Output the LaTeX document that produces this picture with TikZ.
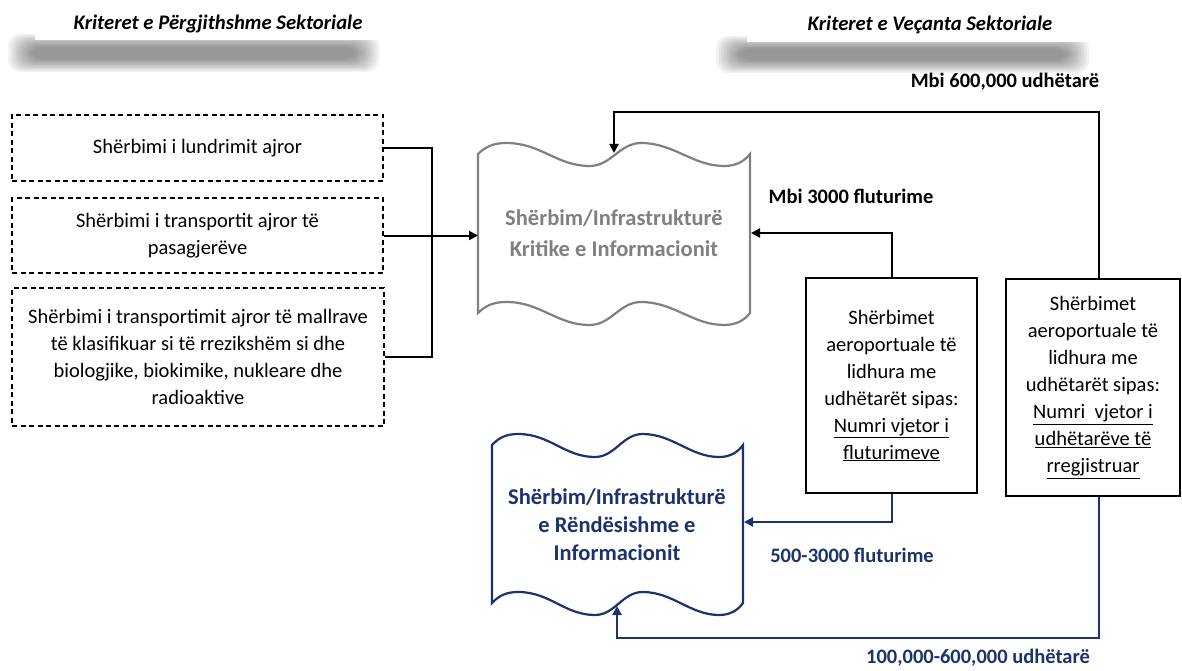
\documentclass[tikz,border=0pt]{standalone}
\usepackage{fontspec}
\setmainfont{Carlito}
\usetikzlibrary{arrows.meta}
\definecolor{navy}{RGB}{28,50,110}
\definecolor{docgray}{RGB}{128,128,128}
\newcommand\tapeoutline[5]{% style, left, top, width, bottom
  \draw[#1] (#2,#3)
   .. controls (#2+0.03*#4,#3-8) and (#2+0.06*#4,#3-11) .. (#2+0.105*#4,#3-11)
   .. controls (#2+0.23*#4,#3-11) and (#2+0.29*#4,#3+12) .. (#2+0.41*#4,#3+12)
   .. controls (#2+0.49*#4,#3+12) and (#2+0.52*#4,#3-11) .. (#2+0.6*#4,#3-11)
   .. controls (#2+0.72*#4,#3-11) and (#2+0.79*#4,#3+12) .. (#2+0.905*#4,#3+12)
   .. controls (#2+0.95*#4,#3+12) and (#2+0.98*#4,#3+7) .. (#2+#4,#3)
   -- (#2+#4,#5)
   .. controls (#2+0.98*#4,#5+7) and (#2+0.95*#4,#5+12) .. (#2+0.905*#4,#5+12)
   .. controls (#2+0.79*#4,#5+12) and (#2+0.72*#4,#5-11) .. (#2+0.6*#4,#5-11)
   .. controls (#2+0.52*#4,#5-11) and (#2+0.49*#4,#5+12) .. (#2+0.41*#4,#5+12)
   .. controls (#2+0.29*#4,#5+12) and (#2+0.23*#4,#5-11) .. (#2+0.105*#4,#5-11)
   .. controls (#2+0.06*#4,#5-11) and (#2+0.03*#4,#5-8) .. (#2,#5) -- cycle;}
\begin{document}
\begin{tikzpicture}[x=1pt,y=-1pt,
  boxtext/.style={align=center, inner sep=0pt, font=\fontsize{20.5}{27}\selectfont},
  dashbox/.style={boxtext, draw, dash pattern=on 5pt off 3.5pt, line width=1.5pt},
  solidbox/.style={boxtext, draw, line width=1.7pt},
  conn/.style={line width=2pt},
  arr/.style={conn, -{Triangle[length=9pt,width=9pt]}},
  navyarr/.style={arr, draw=navy, color=navy},
  lbl/.style={font=\bfseries\fontsize{20.5}{24}\selectfont, inner sep=0pt},
  hdr/.style={font=\bfseries\itshape\fontsize{20.7}{24}\selectfont, inner sep=0pt},
  doctext/.style={align=center, font=\bfseries\fontsize{22.5}{31}\selectfont, inner sep=0pt}
]
\useasboundingbox (0,0) rectangle (1182,671);
% header shadows
\foreach \i in {0,...,9}{
  \fill[black, opacity=0.05, rounded corners=12pt] (8+\i*2.5,34+\i*1.4) rectangle (379-\i*2.5,72-\i*1.4);
  \fill[black, opacity=0.05, rounded corners=12pt] (716+\i*2.5,36+\i*1.4) rectangle (1089-\i*2.5,73-\i*1.4);
}
\fill[white] (35,4) rectangle (393,40);
\fill[white] (747,4) rectangle (1093,42);
\node[hdr] (h1) at (218,24) {Kriteret e Përgjithshme Sektoriale};
\node[hdr] (h2) at (930,25) {Kriteret e Veçanta Sektoriale};

% left dashed boxes
\node[dashbox, minimum width=371pt, minimum height=66pt] (b1) at (197.5,148) {Shërbimi i lundrimit ajror};
\node[dashbox, minimum width=371pt, minimum height=75pt] (b2) at (197.5,235.5) {Shërbimi i transportit ajror të\\pasagjerëve};
\node[dashbox, minimum width=372pt, minimum height=138pt] (b3) at (198,357) {Shërbimi i transportimit ajror të mallrave\\të klasifikuar si të rrezikshëm si dhe\\biologjike, biokimike, nukleare dhe\\radioaktive};

% document shapes
\tapeoutline{draw=docgray, line width=2.2pt}{478}{154}{272}{313}
\node[doctext, text=docgray] (crit) at (614,233.5) {Shërbim/Infrastrukturë\\Kritike e Informacionit};
\tapeoutline{draw=navy, line width=2.2pt}{492}{445}{251}{603}
\node[doctext, text=navy, font=\bfseries\fontsize{22.5}{28}\selectfont] (imp) at (617,525) {Shërbim/Infrastrukturë\\e Rëndësishme e\\Informacionit};
\coordinate (critW) at (478,235.5);
\coordinate (critE) at (751,233);
\coordinate (critN) at (614,153);
\coordinate (impE) at (744,522);
\coordinate (impS) at (617,606);

% right boxes
\node[solidbox, minimum width=171pt, minimum height=215pt] (fl) at (891.5,385.5) {Shërbimet\\aeroportuale të\\lidhura me\\udhëtarët sipas:\\\underline{Numri vjetor i}\\\underline{fluturimeve}};
\node[solidbox, minimum width=174pt, minimum height=217pt] (ps) at (1093,387.5) {Shërbimet\\aeroportuale të\\lidhura me\\udhëtarët sipas:\\\underline{Numri\ \ vjetor i}\\\underline{udhëtarëve të}\\\underline{rregjistruar}};

% connectors left
\coordinate (junc) at (432,235.5);
\draw[conn] (b1.east) -| (junc);
\draw[conn] (b3.east) -| (junc);
\draw[arr] (b2.east) -- (critW);

% connectors right
\draw[arr] (fl.north) |- (critE);
\draw[arr] ([xshift=6pt]ps.north) -- ++(0,-166) -| (critN);
\draw[navyarr] (fl.south) |- (impE);
\draw[navyarr] ([xshift=6pt]ps.south) -- ++(0,141) -| (impS);

% labels
\node[lbl] (l1) at (1005,82) {Mbi 600,000 udhëtarë};
\node[lbl] (l2) at (851,196) {Mbi 3000 fluturime};
\node[lbl, text=navy] (l3) at (852,555) {500-3000 fluturime};
\node[lbl, text=navy] (l4) at (978,658) {100,000-600,000 udhëtarë};
\end{tikzpicture}
\end{document}
